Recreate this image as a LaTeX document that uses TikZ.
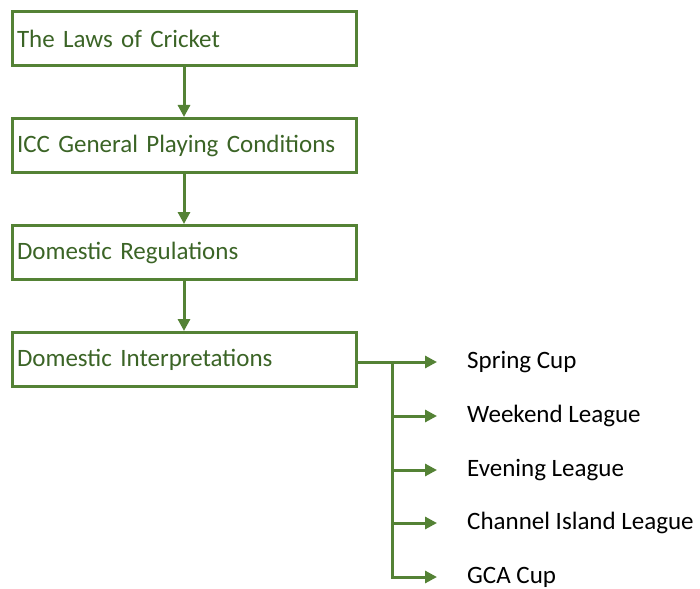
\documentclass[tikz,border=0pt]{standalone}
\usepackage{fontspec}
\setmainfont{Carlito}
\usetikzlibrary{positioning, arrows.meta}

\definecolor{leafgreen}{HTML}{548235}
\definecolor{darkleaf}{HTML}{3B6426}

\begin{document}
\begin{tikzpicture}[x=1pt, y=1pt, node distance=107pt]

\tikzstyle{level} = [rectangle, draw=leafgreen, line width=3pt, text=darkleaf, minimum height=54pt, text width=334pt, inner xsep=5pt, align=left, font=\fontsize{25}{29}\selectfont]
\tikzstyle{league} = [inner sep=0pt, anchor=west, font=\fontsize{25}{29}\selectfont]
\tikzstyle{arrow} = [leafgreen, line width=3pt, -{Triangle[length=12pt,width=12pt]}]
\tikzstyle{branch} = [arrow, shorten >=30pt]

\useasboundingbox (0,0) rectangle (700,-588);

\node (laws) [level] at (184,-38.5) {The Laws of Cricket};

\node (icc) [level, below of=laws] {ICC General Playing Conditions};

\node (regs) [level, below of=icc] {Domestic Regulations};

\node (interp) [level, below of=regs] {Domestic Interpretations};

\node (spring) [league] at (467,-362) {Spring Cup};
\node (weekend) [league] at (467,-416) {Weekend League};
\node (evening) [league] at (467,-470) {Evening League};
\node (channel) [league] at (467,-523) {Channel Island League};
\node (gca) [league] at (467,-577) {GCA Cup};

\coordinate (split) at (392,-362);

\draw [arrow] (laws) -- (icc);
\draw [arrow] (icc) -- (regs);
\draw [arrow] (regs) -- (interp);

\draw [branch] (interp.east |- spring.west) -- (spring.west);
\draw [branch] (split) |- (gca.west);
\draw [branch] (split |- weekend.west) -- (weekend.west);
\draw [branch] (split |- evening.west) -- (evening.west);
\draw [branch] (split |- channel.west) -- (channel.west);

\end{tikzpicture}
\end{document}
